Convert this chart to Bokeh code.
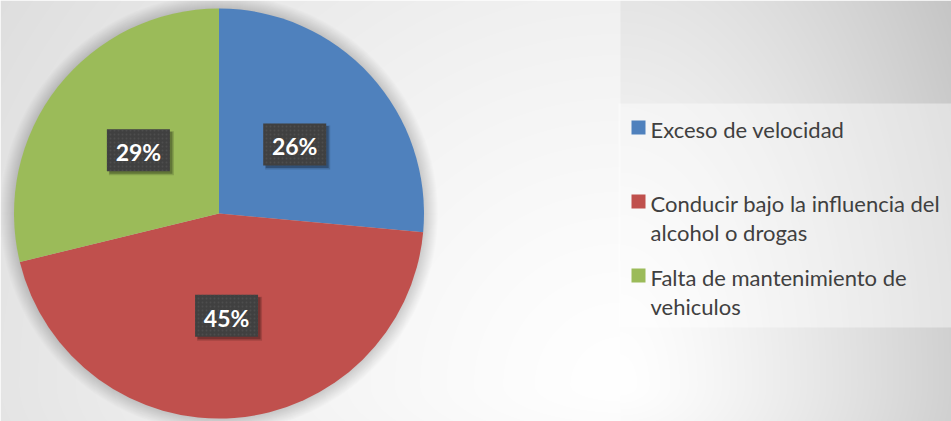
import textwrap
import numpy as np
from bokeh.plotting import figure
from bokeh.models import Range1d, ColumnDataSource
from bokeh.core.properties import value
from bokeh.embed import file_html
from bokeh.resources import INLINE

# ---- data ----
categories = ["Exceso de velocidad",
              "Conducir bajo la influencia del alcohol o drogas",
              "Falta de mantenimiento de vehiculos"]
shares = [26.45, 44.75, 28.8]
colors = ["#4f81bd", "#c0504d", "#9bbb59"]

# ---- layout ----
W, H = 951, 421


def px(sx):
    return sx


def py(sy):
    return H - sy


cx, cy, R = px(218.5), py(213), 205
FONT = "Lato"
TXT_SHIFT = 6  # svg text baseline correction (px)

p = figure(width=W, height=H, x_range=Range1d(0, W), y_range=Range1d(0, H),
           output_backend="svg", toolbar_location=None,
           x_axis_type=None, y_axis_type=None, min_border=0)
p.outline_line_color = None
p.background_fill_color = "#ffffff"
p.border_fill_color = "#ffffff"

# ---- background gradient ----
jj, ii = np.mgrid[0:H, 0:W]
sx = ii + 0.5
sy = (H - 1 - jj) + 0.5
u = sx - 620.0
w = sy - 385.0
ux = np.where(u > 0, u / 330.0, u / 620.0)
wy = np.where(w < 0, w / 600.0, w / 200.0)
r = np.clip(np.sqrt(ux ** 2 + wy ** 2), 0, 1.25)
amp = np.where(u > 0, 46.0, 26.0)
drop = amp * r ** 1.3
val = np.clip(255 - drop, 0, 255).astype(np.uint32)
img = (255 << 24) | (val << 16) | (val << 8) | val
p.image_rgba(image=[img.astype(np.uint32)], x=0, y=0, dw=W, dh=H)

# ---- pie shadow ----
for k in range(1, 15):
    p.circle(x=[cx], y=[cy], radius=R + k, fill_color="#000000",
             fill_alpha=0.011, line_color=None)

# ---- pie ----
total = float(sum(shares))
frac = np.array(shares) / total
cum_end = np.cumsum(frac)
cum_start = cum_end - frac
src = ColumnDataSource(dict(
    start=np.pi / 2 - 2 * np.pi * cum_end,
    end=np.pi / 2 - 2 * np.pi * cum_start,
    color=colors,
    cat=categories,
))
p.wedge(x=cx, y=cy, radius=R, start_angle="start", end_angle="end",
        fill_color="color", line_color=None, source=src)

# ---- data labels ----
mid = np.pi / 2 - 2 * np.pi * (cum_start + frac / 2)
lx = cx + 0.5 * R * np.cos(mid)
ly = cy + 0.5 * R * np.sin(mid)
labels = ["%d%%" % round(f * 100) for f in frac]
BW, BH = 63, 42
p.rect(x=lx + 3, y=ly - 3, width=BW + 2, height=BH + 2, fill_color="#000000",
       fill_alpha=0.15, line_color=None)
p.rect(x=lx + 2.5, y=ly - 2.5, width=BW, height=BH, fill_color="#000000",
       fill_alpha=0.26, line_color=None)
p.rect(x=lx, y=ly, width=BW, height=BH, fill_color="#404040", line_color=None,
       hatch_pattern="dot", hatch_color="#555555", hatch_scale=4,
       hatch_weight=1.1, hatch_alpha=0.6)
p.text(x=lx, y=ly - 8 + TXT_SHIFT, text=labels, text_font=value(FONT),
       text_font_style="bold", text_font_size="23px", text_color="#ffffff",
       text_align="center", text_baseline="alphabetic")

# ---- legend ----
p.quad(left=px(618), right=W, top=py(103), bottom=py(327),
       fill_color="#ffffff", fill_alpha=0.42, line_color=None)
row_sy = [127 + 74 * i for i in range(len(categories))]
p.rect(x=[px(638)] * len(categories), y=[py(s) for s in row_sy], width=14,
       height=14, fill_color=colors, line_color=None)
tx, ty, tt = [], [], []
for s, cat in zip(row_sy, categories):
    for k, line in enumerate(textwrap.wrap(cat, 31)):
        tx.append(px(650))
        ty.append(py(s + 7.5 + 29 * k) + TXT_SHIFT)
        tt.append(line)
p.text(x=tx, y=ty, text=tt, text_font=value(FONT), text_font_size="22px",
       text_color="#404040", text_align="left", text_baseline="alphabetic")

open("out.html", "w").write(file_html(p, INLINE))
